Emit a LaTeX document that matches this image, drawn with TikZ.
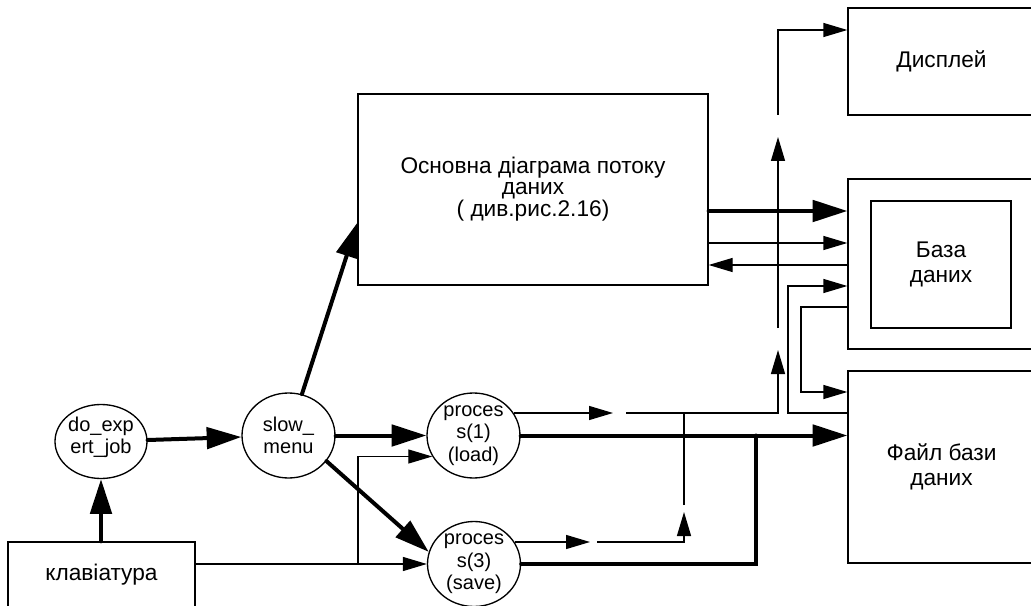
\documentclass[tikz,border=0pt]{standalone}
\usepackage{fontspec}
\setmainfont{Liberation Sans}
\usetikzlibrary{arrows.meta,shapes.geometric,calc}
\begin{document}
\begin{tikzpicture}[x=0.75pt,y=-0.75pt,
  box/.style={draw, line width=1pt, rectangle, inner sep=0pt, align=center,
    font=\fontsize{17}{19}\selectfont},
  proc/.style={draw, ellipse, line width=1pt, inner sep=0pt,
    minimum width=69.75pt, minimum height=63.75pt},
  ptext/.style={inner sep=0pt, align=center, font=\fontsize{15}{16.9}\selectfont},
  thin/.style={line width=1pt},
  flow/.style={thin, -{Triangle[length=18pt,width=10.5pt]}},
  bigline/.style={line width=3pt, line cap=round},
  bigflow/.style={bigline, -{Triangle[length=26pt,width=16pt]}}]
\useasboundingbox (0,0) rectangle (1031,606);
\clip (0,0) rectangle (1031,606);

% boxes
\node[box, minimum width=140.25pt, minimum height=80.25pt] (disp) at (941.5,61.5) {Дисплей};
\node[box, minimum width=140.25pt, minimum height=127.5pt] (bd) at (941.5,264) {};
\node[box, minimum width=105pt, minimum height=95.25pt] (bdi) at (941,264.5) {База\\даних};
\node[box, minimum width=140.25pt, minimum height=144pt] (fl) at (941.5,467) {Файл бази\\даних};
\node[box, minimum width=262.5pt, minimum height=143.25pt,
  font=\fontsize{17}{15.4}\selectfont] (osn) at (533,189.5)
  {Основна діаграма потоку\\даних\\( див.рис.2.16)};
\node[box, minimum width=140.25pt, minimum height=49.5pt] (klav) at (101.5,575) {клавіатура};

% processes
\node[proc, minimum width=69pt, minimum height=55.5pt] (do) at (101,441.5) {};
\node[ptext] (dot) at ([yshift=3pt]do.center) {do\_exp\\ert\_job};
\node[proc] (sm) at (288.5,435.5) {};
\node[ptext] (smt) at (sm.center) {slow\_\\menu};
\node[proc] (p1) at (473.5,435.5) {};
\node[ptext] (p1t) at (p1.center) {proces\\s(1)\\(load)};
\node[proc] (p3) at (474,564) {};
\node[ptext] (p3t) at (p3.center) {proces\\s(3)\\(save)};

% thick flows on the left
\draw[bigflow] (do.south |- klav.north) -- (do.south);
\draw[bigflow] (do) -- (sm);
\draw[bigflow] (sm.72) -- ([yshift=47.25pt]osn.south west);
\draw[bigflow] (sm) -- (p1);
\draw[bigflow] (sm.-34) -- (p3.165);

% keyboard to processes
\coordinate (br) at (358,563);
\draw[flow] (klav.east |- p3.west) -- (p3.west);
\draw[thin] (br) -- (br |- p1.207);
\draw[flow] (br |- p1.207) -- (p1.207);

% chain from process 1 to the display
\coordinate (a1) at (613,413);
\coordinate (a2) at (626,413);
\coordinate (k1) at (778,413);
\coordinate (a3) at (778,350);
\coordinate (a4) at (778,328);
\coordinate (a5) at (778,137);
\coordinate (a6) at (778,115);
\coordinate (k2) at (778,30);
\draw[flow] (p1.28 |- a1) -- (a1);
\draw[flow] (a2) -- (k1) -- (a3);
\draw[flow] (a4) -- (a5);
\draw[flow] (a6) -- (k2) -- (k2 -| disp.west);

% chain from process 3
\coordinate (b1) at (590,542);
\coordinate (b2) at (597,542);
\coordinate (k3) at (684,542);
\coordinate (b3) at (684,512);
\coordinate (b4) at (684,505);
\coordinate (k4) at (684,413);
\draw[flow] (p3.28 |- b1) -- (b1);
\draw[flow] (b2) -- (k3) -- (b3);
\draw[thin] (b4) -- (k4);

% thick flows to the file
\coordinate (tj) at (756,435.5);
\draw[bigflow] (p1.east) -- (p1.east -| fl.west);
\draw[bigline] (p3.east) -| (tj);

% main diagram <-> database
\coordinate (o1) at ([yshift=-16.125pt]osn.east);
\coordinate (o2) at ([yshift=-40.125pt]osn.east);
\coordinate (o3) at ([yshift=-56.625pt]osn.east);
\draw[bigflow] (o1) -- (o1 -| bd.west);
\draw[flow] (o2) -- (o2 -| bd.west);
\draw[flow] (o3 -| bd.west) -- (o3);

% file <-> database
\coordinate (f1) at ([yshift=40.5pt]fl.west);
\coordinate (d1) at ([yshift=-16.5pt]bd.west);
\coordinate (c1) at (788,350);
\draw[flow] (f1) -- (f1 -| c1) |- (d1);
\coordinate (d2) at ([yshift=-32.25pt]bd.west);
\coordinate (f2) at ([yshift=56.25pt]fl.west);
\coordinate (c2) at (801,350);
\draw[flow] (d2) -- (d2 -| c2) |- (f2);
\end{tikzpicture}
\end{document}
